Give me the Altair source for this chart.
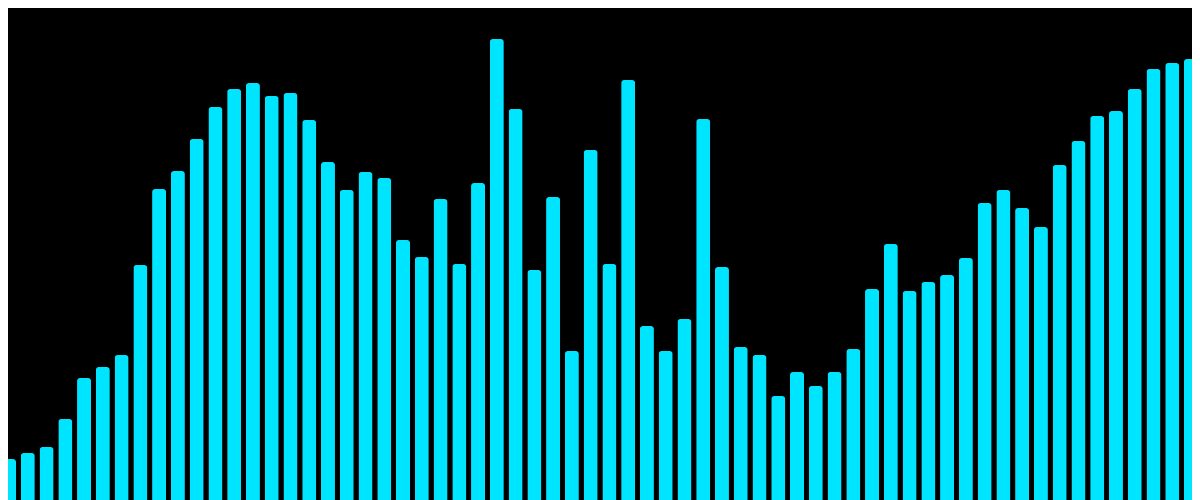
import altair as alt
import pandas as pd

tops = [459, 453, 447, 419, 378, 367, 355, 265, 189, 171, 139, 107, 89, 83, 96, 93,
        120, 162, 190, 172, 178, 240, 257, 199, 264, 183, 39, 109, 270, 197, 351, 150,
        264, 80, 326, 351, 319, 119, 267, 347, 355, 396, 372, 386, 372, 349, 289, 244,
        291, 282, 275, 258, 203, 190, 208, 227, 165, 141, 116, 111, 89, 69, 63, 59]
values = [500 - t for t in tops]
idx = list(range(1, len(values) + 1))

df = pd.DataFrame({"i": idx, "v": values})

chart = alt.Chart(df).mark_bar(
    color="#00E5FF", cornerRadiusTopLeft=3, cornerRadiusTopRight=3
).encode(
    x=alt.X("i:O", axis=None,
            scale=alt.Scale(paddingInner=0.253, paddingOuter=0.107, range=[-8, 1192])),
    y=alt.Y("v:Q", axis=None,
            scale=alt.Scale(domain=[0, 500], nice=False, zero=True, range=[492, -8])),
).properties(
    width=1184, height=492,
    padding=0,
    autosize=alt.AutoSizeParams(type="none"),
    background="#000000"
).configure_view(stroke=None, fill="#000000")

chart.save("out.html", embed_options={"renderer": "svg", "actions": False})
